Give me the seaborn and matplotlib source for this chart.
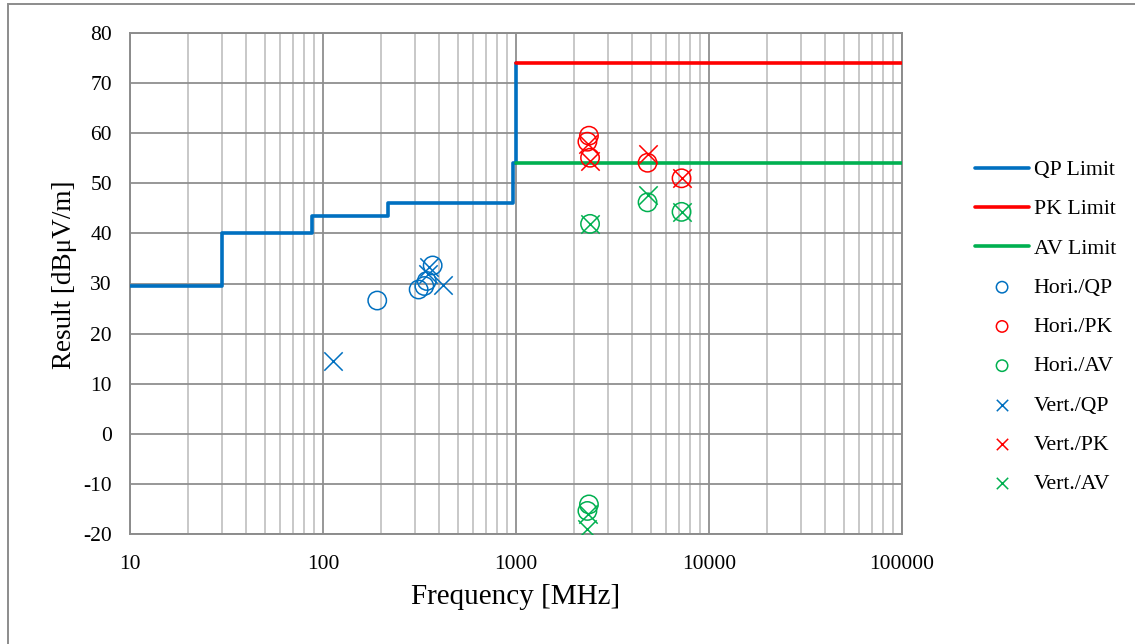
import matplotlib
matplotlib.use("Agg")
import matplotlib.pyplot as plt
import matplotlib.patches as mpatches
from matplotlib.ticker import LogLocator, FixedLocator, NullFormatter, FuncFormatter
import seaborn as sns
import pandas as pd
import numpy as np

# ---- data ----
qp_freq = [10, 30, 30, 88, 88, 216, 216, 960, 960, 1000, 1000]
qp_level = [29.5, 29.5, 40, 40, 43.5, 43.5, 46, 46, 54, 54, 74]
pk_freq = [1000, 100000]
pk_level = [74, 74]
av_freq = [1000, 100000]
av_level = [54, 54]

hori_qp_freq = [191, 313, 335, 345, 370]
hori_qp_level = [26.6, 28.8, 29.5, 30.5, 33.6]
hori_pk_freq = [2388, 2344, 2419, 4804, 7206]
hori_pk_level = [59.5, 58.3, 55.1, 54.1, 51.0]
hori_av_freq = [2419, 4804, 7206, 2388, 2344]
hori_av_level = [41.9, 46.2, 44.3, -14.1, -15.4]
vert_qp_freq = [113, 355, 350, 420]
vert_qp_level = [14.6, 33.2, 31.8, 29.7]
vert_pk_freq = [2350, 2425, 4804, 7206]
vert_pk_level = [57.9, 54.5, 55.8, 51.0]
vert_av_freq = [2419, 4804, 7206, 2350, 2344]
vert_av_level = [41.9, 47.7, 44.3, -16.0, -19.1]

BLUE = "#0070C0"
RED = "#FF0000"
GREEN = "#00B050"

sns.set_theme(style="white")
plt.rcParams["font.family"] = ["Liberation Serif", "DejaVu Serif"]
plt.rcParams["axes.unicode_minus"] = False
plt.rcParams["text.color"] = "black"
plt.rcParams["axes.labelcolor"] = "black"

fig = plt.figure(figsize=(11.35, 6.44), dpi=100)
ax = fig.add_axes([130 / 1135, 1 - 534 / 644, (902 - 130) / 1135, (534 - 33) / 644])

# outer chart frame
fig.patches.append(mpatches.Rectangle((8 / 1135, -0.1), 1.2, 1.1 - 4 / 644,
                                      transform=fig.transFigure, fill=False,
                                      edgecolor="#8c8c8c", linewidth=1.4, zorder=0))

lw = 2.6
sns.lineplot(x=qp_freq, y=qp_level, ax=ax, color=BLUE, linewidth=lw, sort=False,
             estimator=None, label="QP Limit", zorder=3)
sns.lineplot(x=pk_freq, y=pk_level, ax=ax, color=RED, linewidth=lw, sort=False,
             estimator=None, label="PK Limit", zorder=3)
sns.lineplot(x=av_freq, y=av_level, ax=ax, color=GREEN, linewidth=lw, sort=False,
             estimator=None, label="AV Limit", zorder=3)

ms = 175
for fx, fy, c, lab in [(hori_qp_freq, hori_qp_level, BLUE, "Hori./QP"),
                       (hori_pk_freq, hori_pk_level, RED, "Hori./PK"),
                       (hori_av_freq, hori_av_level, GREEN, "Hori./AV")]:
    sns.scatterplot(x=fx, y=fy, ax=ax, marker="o", s=ms, facecolor="none",
                    edgecolor=c, linewidth=1.1, label=lab, zorder=4)
for fx, fy, c, lab in [(vert_qp_freq, vert_qp_level, BLUE, "Vert./QP"),
                       (vert_pk_freq, vert_pk_level, RED, "Vert./PK"),
                       (vert_av_freq, vert_av_level, GREEN, "Vert./AV")]:
    sns.scatterplot(x=fx, y=fy, ax=ax, marker="x", s=ms, color=c,
                    linewidth=1.1, label=lab, zorder=4)

ax.set_xscale("log")
ax.set_xlim(10, 100000)
ax.set_ylim(-20, 80)
ax.set_yticks(np.arange(-20, 81, 10))
ax.xaxis.set_major_locator(FixedLocator([10, 100, 1000, 10000, 100000]))
ax.xaxis.set_major_formatter(FuncFormatter(lambda v, p: f"{int(round(v))}"))
ax.xaxis.set_minor_locator(LogLocator(base=10, subs=np.arange(2, 10), numticks=20))
ax.xaxis.set_minor_formatter(NullFormatter())

ax.grid(True, which="major", axis="both", color="#8f8f8f", linewidth=1.3, zorder=0)
ax.grid(True, which="minor", axis="x", color="#c4c4c4", linewidth=1.3, zorder=0)
ax.set_axisbelow(True)
for sp in ax.spines.values():
    sp.set_color("#8c8c8c")
    sp.set_linewidth(1.4)

ax.tick_params(axis="both", which="both", length=0, labelsize=15.5, colors="black")
ax.tick_params(axis="x", pad=15)
ax.tick_params(axis="y", pad=13)

ax.set_xlabel("Frequency [MHz]", fontsize=21, labelpad=7)
ax.set_ylabel("Result [dBμV/m]", fontsize=19.5)
ax.yaxis.set_label_coords(-0.069, 0.517)

handles, labels = ax.get_legend_handles_labels()
leg = ax.legend(handles, labels, loc="upper left", bbox_to_anchor=(1.083, 0.764),
                frameon=False, fontsize=15.7, labelspacing=0.87, handlelength=2.5,
                handletextpad=0.2, markerscale=0.62, borderaxespad=0)

fig.savefig("out.png", dpi=100)
